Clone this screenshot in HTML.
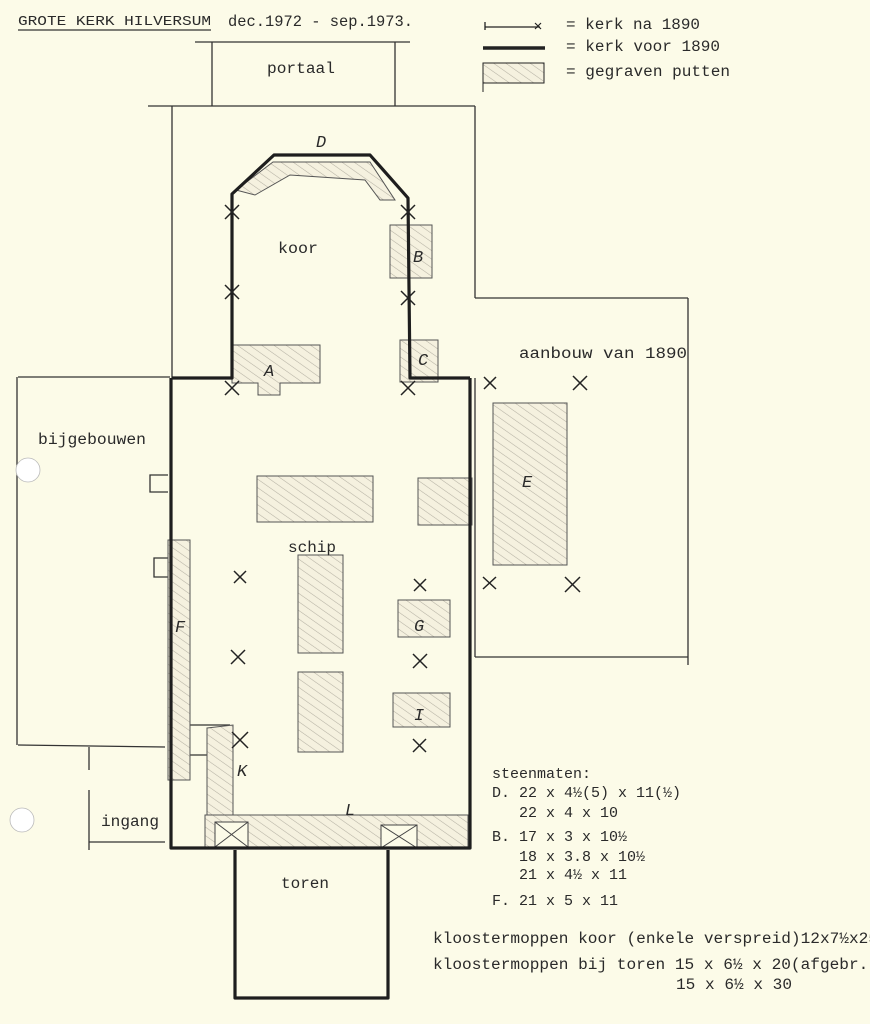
<!DOCTYPE html>
<html><head><meta charset="utf-8"><style>
html,body{margin:0;padding:0;background:#fcfbe8;}
svg{display:block}
text{font-family:"Liberation Mono",monospace;fill:#2a2a2a;}
</style></head><body>
<svg width="883" height="1024" viewBox="0 0 883 1024" xmlns="http://www.w3.org/2000/svg">
<defs>
<pattern id="h" width="7" height="7" patternUnits="userSpaceOnUse" patternTransform="rotate(-55)">
<rect width="7" height="7" fill="#f5f1df"/>
<line x1="0" y1="0" x2="0" y2="7" stroke="#b5b1a3" stroke-width="1.1"/>
</pattern>
</defs>
<rect width="883" height="1024" fill="#fcfbe8"/>
<g stroke="#333" stroke-width="1.3" fill="none">
<line x1="195" y1="42" x2="410" y2="42"/>
<line x1="212" y1="42" x2="212" y2="106"/>
<line x1="395" y1="42" x2="395" y2="106"/>
<line x1="148" y1="106" x2="475" y2="106"/>
<line x1="172" y1="106" x2="172" y2="378"/>
<line x1="475" y1="106" x2="475" y2="298"/>
<line x1="475" y1="298" x2="688" y2="298"/>
<line x1="688" y1="298" x2="688" y2="665"/>
<line x1="475" y1="657" x2="688" y2="657"/>
<line x1="475" y1="378" x2="475" y2="657"/>
<line x1="18" y1="377" x2="170" y2="377"/>
<line x1="17" y1="377" x2="17" y2="745"/>
<line x1="18" y1="745" x2="165" y2="747"/>
<line x1="89" y1="747" x2="89" y2="770"/>
<line x1="89" y1="790" x2="89" y2="850"/>
<line x1="89" y1="842" x2="165" y2="842"/>
<polyline points="168,475 150,475 150,492 168,492"/>
<polyline points="168,558 154,558 154,577 168,577"/>
<polyline points="170,543 187,543"/>
<polyline points="187,725 230,725"/>
<polyline points="190,755 210,755 210,815"/>
</g>
<g stroke="#555" stroke-width="1" fill="url(#h)">
<polygon points="236,190 273,162 370,162 395,200 380,200 365,180 290,175 255,195"/>
<polygon points="232,345 320,345 320,383 280,383 280,395 258,395 258,383 232,383"/>
<rect x="390" y="225" width="42" height="53"/>
<rect x="400" y="340" width="38" height="42"/>
<rect x="493" y="403" width="74" height="162"/>
<rect x="257" y="476" width="116" height="46"/>
<rect x="418" y="478" width="54" height="47"/>
<rect x="298" y="555" width="45" height="98"/>
<rect x="398" y="600" width="52" height="37"/>
<rect x="298" y="672" width="45" height="80"/>
<rect x="393" y="693" width="57" height="34"/>
<rect x="168" y="540" width="22" height="240"/>
<rect x="205" y="815" width="263" height="33"/>
<polygon points="207,728 233,725 233,815 207,815"/>
</g>
<g stroke="#444" stroke-width="1" fill="#fcfbe8">
<rect x="215" y="822" width="33" height="25"/>
<rect x="381" y="825" width="36" height="23"/>
</g>
<g stroke="#444" stroke-width="1">
<line x1="215" y1="822" x2="248" y2="847"/><line x1="248" y1="822" x2="215" y2="847"/>
<line x1="381" y1="825" x2="417" y2="848"/><line x1="417" y1="825" x2="381" y2="848"/>
</g>
<g stroke="#1e1e1e" stroke-width="3.2" fill="none" stroke-linejoin="round">
<polyline points="172,378 232,378 232,194 274,155 370,155 408,198 410,378 470,378"/>
<polyline points="171,378 171,848 470,848 470,378"/>
<polyline points="235,850 235,998 388,998 388,850"/>
</g>
<g stroke="#222" stroke-width="1.5">
<path d="M225 205l14 14M239 205l-14 14"/>
<path d="M225 285l14 14M239 285l-14 14"/>
<path d="M225 381l14 14M239 381l-14 14"/>
<path d="M401 205l14 14M415 205l-14 14"/>
<path d="M401 291l14 14M415 291l-14 14"/>
<path d="M401 381l14 14M415 381l-14 14"/>
<path d="M484 377l12 12M496 377l-12 12"/>
<path d="M573 376l14 14M587 376l-14 14"/>
<path d="M483 577l13 12M496 577l-13 12"/>
<path d="M565 577l15 15M580 577l-15 15"/>
<path d="M234 571l12 12M246 571l-12 12"/>
<path d="M231 650l14 14M245 650l-14 14"/>
<path d="M232 732l16 16M248 732l-16 16"/>
<path d="M414 579l12 12M426 579l-12 12"/>
<path d="M413 654l14 14M427 654l-14 14"/>
<path d="M413 739l13 13M426 739l-13 13"/>
</g>
<g stroke="#222">
<line x1="485" y1="27" x2="540" y2="27" stroke-width="1.3"/>
<line x1="485" y1="22" x2="485" y2="30" stroke-width="1.3"/>
<path d="M535 23l6 6M541 23l-6 6" stroke-width="1.2"/>
<line x1="483" y1="48" x2="545" y2="48" stroke-width="3.5"/>
<rect x="483" y="63" width="61" height="20" fill="url(#h)" stroke-width="1"/>
<line x1="483" y1="63" x2="483" y2="92" stroke-width="1"/>
</g>
<g font-size="15.5">
<text x="18" y="25" font-size="14" textLength="193" lengthAdjust="spacingAndGlyphs">GROTE KERK HILVERSUM</text>
<line x1="18" y1="30" x2="211" y2="30" stroke="#333" stroke-width="1.2"/>
<text x="228" y="26" font-size="16" textLength="185" lengthAdjust="spacingAndGlyphs">dec.1972 - sep.1973.</text>
<text x="566" y="29" textLength="134" lengthAdjust="spacingAndGlyphs">= kerk na 1890</text>
<text x="566" y="51" textLength="154" lengthAdjust="spacingAndGlyphs">= kerk voor 1890</text>
<text x="566" y="76" textLength="164" lengthAdjust="spacingAndGlyphs">= gegraven putten</text>
<text x="267" y="73" textLength="68" lengthAdjust="spacingAndGlyphs">portaal</text>
<text x="278" y="253" textLength="40" lengthAdjust="spacingAndGlyphs">koor</text>
<text x="519" y="358" textLength="168" lengthAdjust="spacingAndGlyphs">aanbouw van 1890</text>
<text x="38" y="444" textLength="108" lengthAdjust="spacingAndGlyphs">bijgebouwen</text>
<text x="288" y="552" textLength="48" lengthAdjust="spacingAndGlyphs">schip</text>
<text x="101" y="826" textLength="58" lengthAdjust="spacingAndGlyphs">ingang</text>
<text x="281" y="888" textLength="48" lengthAdjust="spacingAndGlyphs">toren</text>
<text x="492" y="778" font-size="15">steenmaten:</text>
<text x="492" y="797" font-size="15">D. 22 x 4½(5) x 11(½)</text>
<text x="519" y="817" font-size="15">22 x 4 x 10</text>
<text x="492" y="841" font-size="15">B. 17 x 3 x 10½</text>
<text x="519" y="861" font-size="15">18 x 3.8 x 10½</text>
<text x="519" y="879" font-size="15">21 x 4½  x 11</text>
<text x="492" y="905" font-size="15">F. 21 x 5 x 11</text>
<text x="433" y="943" textLength="445" lengthAdjust="spacingAndGlyphs">kloostermoppen koor (enkele verspreid)12x7½x25</text>
<text x="433" y="969" textLength="445" lengthAdjust="spacingAndGlyphs">kloostermoppen bij toren 15 x 6½ x 20(afgebr.)</text>
<text x="676" y="989" textLength="116" lengthAdjust="spacingAndGlyphs">15 x 6½ x 30</text>
</g>
<g font-size="17" font-style="italic" font-family="Liberation Sans,sans-serif">
<text x="316" y="147">D</text>
<text x="413" y="262">B</text>
<text x="264" y="376">A</text>
<text x="418" y="365">C</text>
<text x="522" y="487">E</text>
<text x="414" y="631">G</text>
<text x="414" y="720">I</text>
<text x="175" y="632">F</text>
<text x="237" y="776">K</text>
<text x="345" y="815">L</text>
</g>
<rect x="870" y="0" width="13" height="1024" fill="#ffffff"/>
<circle cx="28" cy="470" r="12" fill="#ffffff" stroke="#bbb" stroke-width="0.8"/>
<circle cx="22" cy="820" r="12" fill="#ffffff" stroke="#bbb" stroke-width="0.8"/>
</svg>
</body></html>
